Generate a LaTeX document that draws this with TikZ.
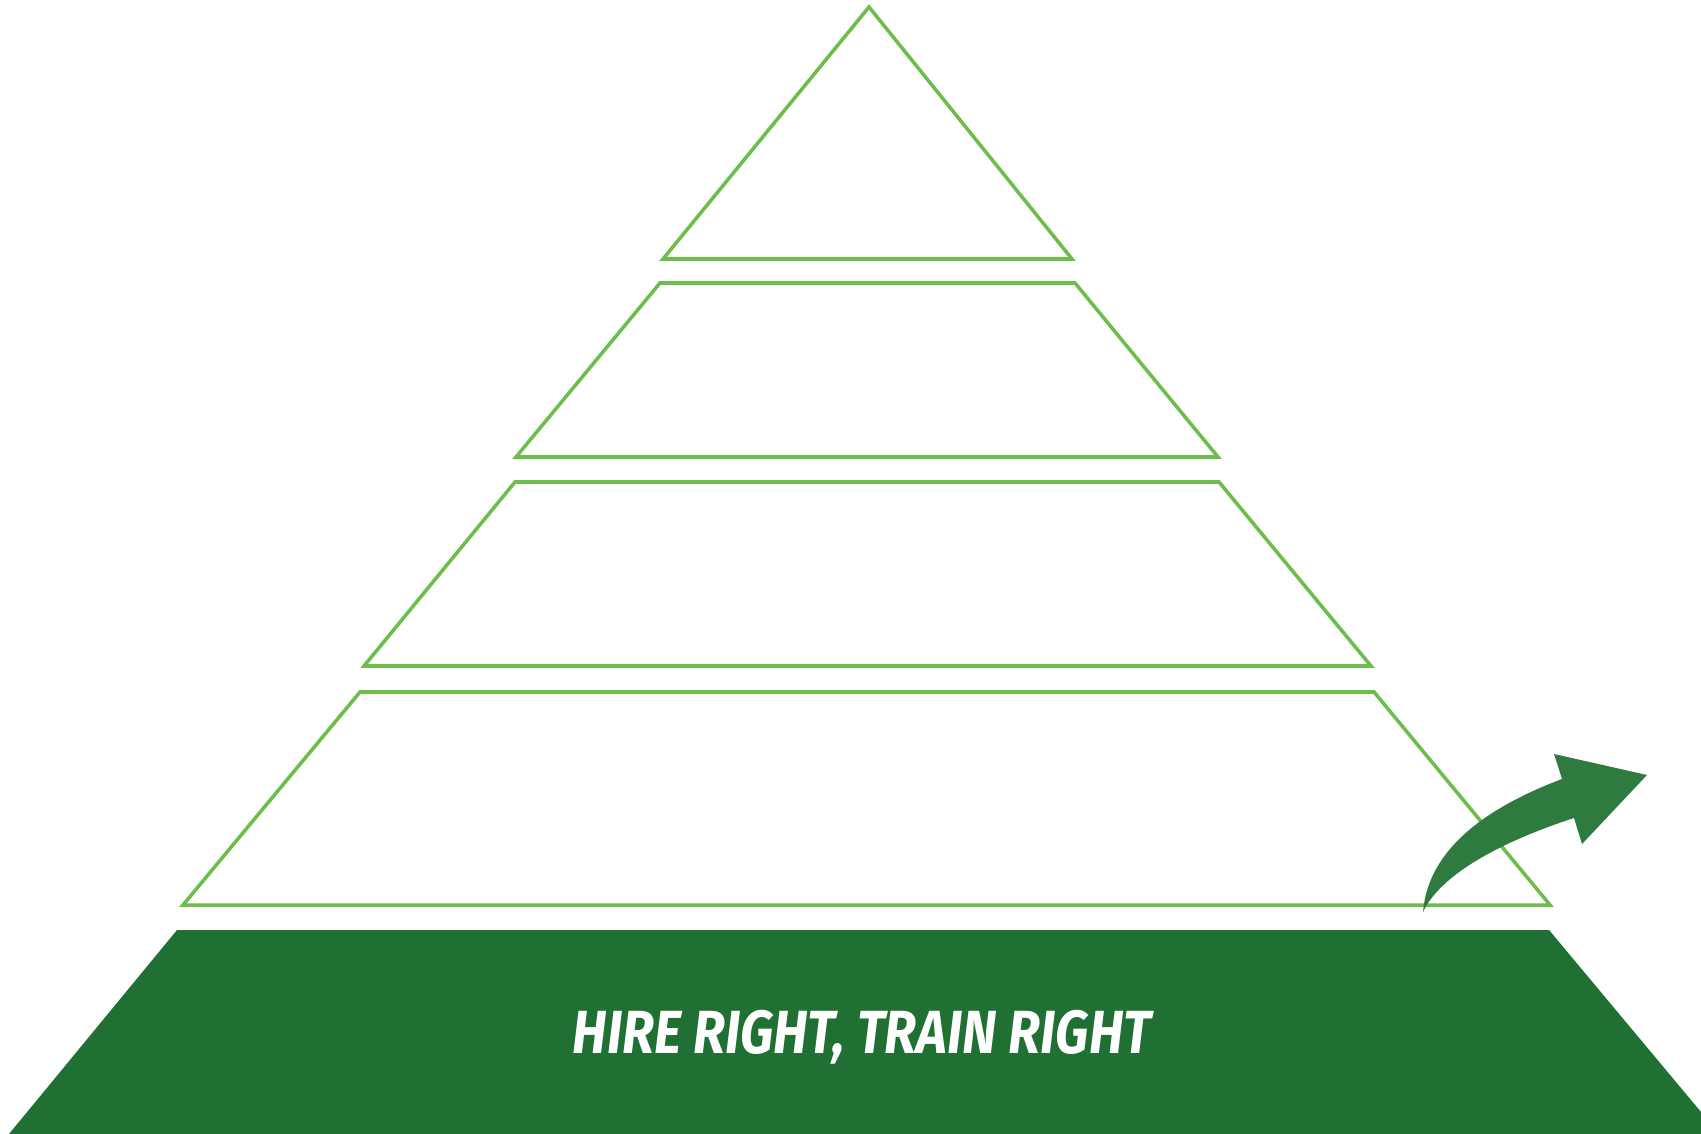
\documentclass[tikz,border=0pt]{standalone}
\usepackage{fontspec}
\setmainfont{Fira Sans}
\usepackage{graphicx}
\definecolor{outlinegreen}{RGB}{108,190,75}
\definecolor{bandgreen}{RGB}{32,112,51}
\definecolor{arrowgreen}{RGB}{47,122,62}
\begin{document}
\begin{tikzpicture}[x=0.01cm,y=-0.01cm,
  layer/.style={draw=outlinegreen,line width=1pt,line join=miter,fill=white},
  band/.style={fill=bandgreen,draw=none},
  bigarrow/.style={fill=arrowgreen,draw=none}]
\useasboundingbox (0,0) rectangle (1701,1134);
% layers
\draw[layer] (869,7) -- (1072,259) -- (663,259) -- cycle;
\draw[layer] (660,283) -- (1075,283) -- (1218,457) -- (516,457) -- cycle;
\draw[layer] (515,482) -- (1219,482) -- (1371,666) -- (364,666) -- cycle;
\draw[layer] (360,692) -- (1374,692) -- (1550,905) -- (183,905) -- cycle;
% base band
\fill[band] (177,930) -- (1549,930) -- (1701,1112) -- (1701,1134) -- (9,1134) -- cycle;
\node[anchor=base,text=white,inner sep=0pt] (label) at (862,1053)
  {\resizebox{164.5pt}{12.3pt}{\bfseries\itshape HIRE RIGHT, TRAIN RIGHT}};
% curved arrow
\coordinate (tail) at (1423,912);
\coordinate (neckup) at (1562,779);
\coordinate (headup) at (1554,754);
\coordinate (tip) at (1647,775);
\coordinate (headlow) at (1582,844);
\coordinate (necklow) at (1574,818);
\fill[bigarrow] (tail) .. controls (1428,850) and (1485,808) .. (neckup)
  -- (headup) -- (tip) -- (headlow) -- (necklow)
  .. controls (1500,842) and (1440,875) .. (tail) -- cycle;
\end{tikzpicture}
\end{document}
